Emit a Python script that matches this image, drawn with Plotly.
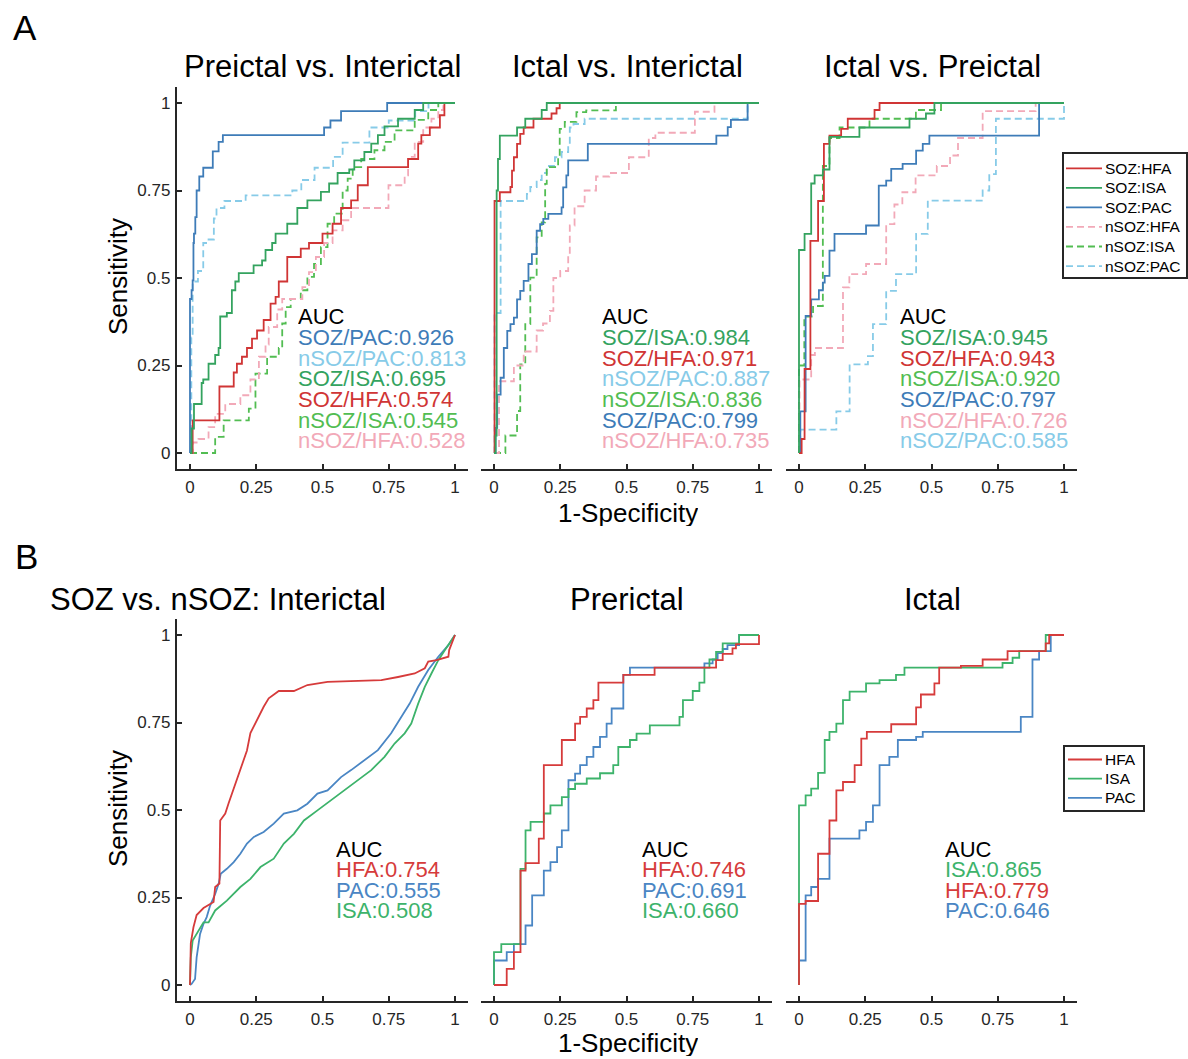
import plotly.graph_objects as go

# ---------------- data ----------------
tick_vals = [0, 0.25, 0.5, 0.75, 1]
tick_text = ["0", "0.25", "0.5", "0.75", "1"]

titles = ["Preictal vs. Interictal", "Ictal vs. Interictal", "Ictal vs. Preictal",
          "SOZ vs. nSOZ: Interictal", "Prerictal", "Ictal"]

top_series = ["SOZ:HFA", "SOZ:ISA", "SOZ:PAC", "nSOZ:HFA", "nSOZ:ISA", "nSOZ:PAC"]
bottom_series = ["HFA", "ISA", "PAC"]

# Panel 1: Preictal vs. Interictal
p1_soz_hfa_x = [0, 0.01, 0.111, 0.165, 0.177, 0.196, 0.215, 0.234, 0.253, 0.278, 0.304, 0.323, 0.335, 0.367, 0.418, 0.449, 0.5, 0.538, 0.57, 0.608, 0.633, 0.671, 0.823, 0.861, 0.873, 0.905, 0.943, 0.96, 1.0]
p1_soz_hfa_y = [0, 0.093, 0.19, 0.23, 0.255, 0.275, 0.3, 0.327, 0.35, 0.38, 0.427, 0.446, 0.49, 0.56, 0.584, 0.6, 0.627, 0.655, 0.7, 0.722, 0.765, 0.817, 0.84, 0.884, 0.908, 0.93, 0.965, 1.0, 1.0]
p1_soz_isa_x = [0, 0.006, 0.015, 0.044, 0.05, 0.07, 0.095, 0.108, 0.114, 0.139, 0.158, 0.171, 0.184, 0.24, 0.272, 0.285, 0.31, 0.323, 0.367, 0.405, 0.443, 0.494, 0.525, 0.557, 0.601, 0.62, 0.658, 0.684, 0.709, 0.734, 0.785, 0.848, 0.88, 1.0]
p1_soz_isa_y = [0, 0.07, 0.14, 0.2, 0.21, 0.255, 0.28, 0.3, 0.39, 0.4, 0.465, 0.49, 0.514, 0.536, 0.55, 0.58, 0.6, 0.627, 0.655, 0.7, 0.722, 0.746, 0.77, 0.8, 0.81, 0.836, 0.86, 0.884, 0.908, 0.933, 0.955, 0.98, 1.0, 1.0]
p1_soz_pac_x = [0, 0, 0.006, 0.01, 0.013, 0.015, 0.02, 0.025, 0.035, 0.05, 0.086, 0.108, 0.124, 0.506, 0.53, 0.57, 0.744, 1.0]
p1_soz_pac_y = [0, 0.44, 0.465, 0.493, 0.6, 0.627, 0.674, 0.75, 0.79, 0.815, 0.862, 0.889, 0.908, 0.93, 0.95, 0.977, 1.0, 1.0]
p1_nsoz_hfa_x = [0, 0.01, 0.032, 0.07, 0.095, 0.133, 0.19, 0.228, 0.26, 0.285, 0.297, 0.329, 0.348, 0.424, 0.449, 0.475, 0.506, 0.538, 0.576, 0.608, 0.749, 0.81, 0.823, 0.848, 0.88, 0.911, 0.937, 0.956, 1.0]
p1_nsoz_hfa_y = [0, 0.03, 0.04, 0.074, 0.112, 0.14, 0.165, 0.21, 0.275, 0.31, 0.36, 0.41, 0.44, 0.474, 0.517, 0.56, 0.6, 0.636, 0.665, 0.7, 0.765, 0.793, 0.846, 0.889, 0.93, 0.955, 0.98, 1.0, 1.0]
p1_nsoz_isa_x = [0, 0.095, 0.127, 0.222, 0.247, 0.291, 0.335, 0.348, 0.361, 0.38, 0.418, 0.443, 0.468, 0.494, 0.519, 0.544, 0.576, 0.595, 0.614, 0.646, 0.696, 0.734, 0.772, 0.848, 0.899, 0.937, 1.0]
p1_nsoz_isa_y = [0, 0.046, 0.093, 0.127, 0.227, 0.275, 0.3, 0.37, 0.417, 0.44, 0.465, 0.503, 0.54, 0.588, 0.655, 0.684, 0.75, 0.784, 0.817, 0.84, 0.865, 0.889, 0.922, 0.952, 0.98, 1.0, 1.0]
p1_nsoz_pac_x = [0, 0.005, 0.01, 0.03, 0.05, 0.07, 0.09, 0.1, 0.13, 0.21, 0.386, 0.42, 0.47, 0.54, 0.576, 0.677, 0.75, 0.85, 0.9, 1.0]
p1_nsoz_pac_y = [0, 0.33, 0.49, 0.52, 0.6, 0.61, 0.67, 0.7, 0.72, 0.736, 0.75, 0.78, 0.815, 0.846, 0.887, 0.93, 0.95, 0.977, 1.0, 1.0]

# Panel 2: Ictal vs. Interictal
p2_soz_hfa_x = [0, 0.002, 0.022, 0.062, 0.068, 0.075, 0.087, 0.099, 0.112, 0.149, 0.217, 0.236, 0.248, 1.0]
p2_soz_hfa_y = [0, 0.72, 0.745, 0.76, 0.807, 0.845, 0.883, 0.912, 0.93, 0.955, 0.97, 0.985, 1.0, 1.0]
p2_soz_isa_x = [0, 0.006, 0.01, 0.015, 0.022, 0.087, 0.118, 0.18, 0.199, 1.0]
p2_soz_isa_y = [0, 0.05, 0.75, 0.84, 0.907, 0.93, 0.955, 0.98, 1.0, 1.0]
p2_soz_pac_x = [0, 0.006, 0.012, 0.025, 0.037, 0.05, 0.062, 0.075, 0.087, 0.099, 0.112, 0.13, 0.143, 0.161, 0.174, 0.186, 0.205, 0.255, 0.261, 0.273, 0.28, 0.354, 0.839, 0.882, 0.894, 0.957, 1.0]
p2_soz_pac_y = [0, 0.072, 0.167, 0.215, 0.3, 0.349, 0.368, 0.387, 0.439, 0.463, 0.492, 0.54, 0.568, 0.635, 0.654, 0.669, 0.683, 0.702, 0.759, 0.793, 0.836, 0.883, 0.907, 0.931, 0.952, 1.0, 1.0]
p2_nsoz_hfa_x = [0, 0.019, 0.075, 0.112, 0.161, 0.185, 0.211, 0.224, 0.25, 0.28, 0.286, 0.304, 0.342, 0.385, 0.435, 0.509, 0.584, 0.609, 0.758, 0.832, 1.0]
p2_nsoz_hfa_y = [0, 0.205, 0.25, 0.29, 0.35, 0.37, 0.406, 0.5, 0.52, 0.568, 0.65, 0.705, 0.75, 0.79, 0.8, 0.845, 0.9, 0.915, 0.975, 1.0, 1.0]
p2_nsoz_isa_x = [0, 0.043, 0.087, 0.099, 0.118, 0.137, 0.161, 0.18, 0.193, 0.199, 0.242, 0.248, 0.267, 0.311, 0.348, 0.46, 1.0]
p2_nsoz_isa_y = [0, 0.05, 0.12, 0.253, 0.368, 0.501, 0.616, 0.659, 0.769, 0.817, 0.845, 0.926, 0.946, 0.974, 0.979, 1.0, 1.0]
p2_nsoz_pac_x = [0, 0.002, 0.025, 0.124, 0.137, 0.161, 0.18, 0.199, 0.23, 0.255, 0.28, 0.286, 0.3, 0.342, 0.957, 1.0]
p2_nsoz_pac_y = [0, 0.4, 0.72, 0.74, 0.76, 0.78, 0.8, 0.82, 0.845, 0.86, 0.883, 0.93, 0.94, 0.955, 1.0, 1.0]

# Panel 3: Ictal vs. Preictal
p3_soz_hfa_x = [0, 0.01, 0.021, 0.043, 0.072, 0.094, 0.115, 0.159, 0.184, 0.285, 0.304, 1.0]
p3_soz_hfa_y = [0, 0.04, 0.24, 0.606, 0.72, 0.883, 0.907, 0.926, 0.955, 0.98, 1.0, 1.0]
p3_soz_isa_x = [0, 0, 0.021, 0.046, 0.059, 0.09, 0.115, 0.228, 0.417, 0.479, 0.511, 1.0]
p3_soz_isa_y = [0, 0.58, 0.626, 0.77, 0.793, 0.81, 0.903, 0.93, 0.955, 0.97, 1.0, 1.0]
p3_soz_pac_x = [0, 0.005, 0.025, 0.046, 0.075, 0.09, 0.097, 0.115, 0.134, 0.253, 0.301, 0.329, 0.348, 0.391, 0.442, 0.467, 0.492, 0.906, 1.0]
p3_soz_pac_y = [0, 0.119, 0.392, 0.439, 0.465, 0.487, 0.506, 0.578, 0.626, 0.65, 0.764, 0.778, 0.812, 0.826, 0.864, 0.883, 0.907, 1.0, 1.0]
p3_nsoz_hfa_x = [0, 0.002, 0.046, 0.06, 0.166, 0.19, 0.253, 0.329, 0.36, 0.39, 0.44, 0.52, 0.57, 0.6, 0.693, 0.893, 1.0]
p3_nsoz_hfa_y = [0, 0.21, 0.28, 0.3, 0.473, 0.511, 0.54, 0.654, 0.71, 0.745, 0.793, 0.82, 0.85, 0.9, 0.977, 1.0, 1.0]
p3_nsoz_isa_x = [0, 0, 0.02, 0.053, 0.09, 0.115, 0.153, 0.266, 0.441, 0.536, 1.0]
p3_nsoz_isa_y = [0, 0.25, 0.39, 0.42, 0.82, 0.9, 0.93, 0.955, 0.98, 1.0, 1.0]
p3_nsoz_pac_x = [0, 0.005, 0.141, 0.191, 0.26, 0.279, 0.329, 0.366, 0.442, 0.486, 0.693, 0.718, 0.743, 1.0]
p3_nsoz_pac_y = [0, 0.067, 0.119, 0.253, 0.277, 0.368, 0.463, 0.511, 0.626, 0.721, 0.75, 0.797, 0.955, 1.0]

# Panel 4: SOZ vs. nSOZ: Interictal
p4_hfa_x = [0, 0.003, 0.013, 0.025, 0.051, 0.089, 0.095, 0.111, 0.114, 0.133, 0.146, 0.158, 0.171, 0.19, 0.203, 0.215, 0.228, 0.241, 0.253, 0.266, 0.278, 0.297, 0.335, 0.392, 0.443, 0.519, 0.608, 0.722, 0.785, 0.848, 0.886, 0.899, 0.93, 0.975, 0.978, 1.0]
p4_hfa_y = [0, 0.12, 0.165, 0.2, 0.22, 0.237, 0.28, 0.29, 0.47, 0.49, 0.52, 0.547, 0.575, 0.614, 0.642, 0.67, 0.72, 0.74, 0.757, 0.776, 0.795, 0.819, 0.84, 0.84, 0.857, 0.866, 0.868, 0.871, 0.88, 0.89, 0.905, 0.924, 0.928, 0.938, 0.957, 1.0]
p4_isa_x = [0, 0.003, 0.01, 0.025, 0.051, 0.07, 0.095, 0.139, 0.19, 0.228, 0.266, 0.316, 0.354, 0.392, 0.43, 0.481, 0.532, 0.582, 0.633, 0.684, 0.734, 0.772, 0.81, 0.835, 0.861, 0.886, 0.911, 0.937, 0.962, 1.0]
p4_isa_y = [0, 0.079, 0.127, 0.146, 0.179, 0.179, 0.213, 0.241, 0.28, 0.303, 0.337, 0.361, 0.404, 0.432, 0.47, 0.499, 0.528, 0.556, 0.585, 0.614, 0.652, 0.69, 0.719, 0.747, 0.804, 0.852, 0.89, 0.928, 0.957, 1.0]
p4_pac_x = [0, 0.006, 0.019, 0.025, 0.038, 0.051, 0.063, 0.076, 0.095, 0.108, 0.116, 0.139, 0.165, 0.19, 0.215, 0.241, 0.278, 0.316, 0.354, 0.405, 0.443, 0.481, 0.519, 0.57, 0.608, 0.658, 0.709, 0.759, 0.797, 0.829, 0.861, 0.899, 0.937, 0.975, 1.0]
p4_pac_y = [0, 0.003, 0.017, 0.079, 0.146, 0.175, 0.194, 0.227, 0.26, 0.289, 0.318, 0.332, 0.351, 0.375, 0.404, 0.423, 0.437, 0.461, 0.49, 0.499, 0.518, 0.547, 0.556, 0.594, 0.614, 0.642, 0.671, 0.719, 0.766, 0.804, 0.852, 0.9, 0.938, 0.971, 1.0]

# Panel 5: Prerictal
p5_hfa_x = [0, 0.048, 0.075, 0.1, 0.119, 0.169, 0.188, 0.256, 0.306, 0.325, 0.35, 0.375, 0.394, 0.488, 0.606, 0.838, 0.863, 0.9, 0.913, 1.0]
p5_hfa_y = [0, 0.046, 0.094, 0.327, 0.348, 0.418, 0.628, 0.7, 0.747, 0.766, 0.79, 0.814, 0.864, 0.886, 0.907, 0.928, 0.946, 0.962, 0.974, 1.0]
p5_isa_x = [0, 0, 0.0275, 0.1, 0.119, 0.138, 0.188, 0.213, 0.256, 0.281, 0.306, 0.35, 0.4, 0.45, 0.469, 0.513, 0.538, 0.588, 0.7, 0.713, 0.75, 0.775, 0.794, 0.813, 0.838, 0.863, 0.925, 1.0]
p5_isa_y = [0, 0.094, 0.117, 0.332, 0.442, 0.466, 0.49, 0.513, 0.537, 0.56, 0.575, 0.59, 0.605, 0.628, 0.68, 0.7, 0.718, 0.742, 0.766, 0.814, 0.84, 0.864, 0.907, 0.93, 0.952, 0.976, 1.0, 1.0]
p5_pac_x = [0, 0, 0.048, 0.075, 0.119, 0.144, 0.188, 0.213, 0.238, 0.256, 0.281, 0.306, 0.325, 0.35, 0.375, 0.4, 0.425, 0.444, 0.488, 0.513, 0.794, 0.825, 0.844, 0.863, 0.881, 0.925, 1.0]
p5_pac_y = [0, 0.07, 0.094, 0.117, 0.17, 0.256, 0.327, 0.351, 0.394, 0.442, 0.585, 0.604, 0.628, 0.652, 0.68, 0.709, 0.747, 0.79, 0.886, 0.907, 0.919, 0.93, 0.948, 0.96, 0.971, 1.0, 1.0]

# Panel 6: Ictal
p6_hfa_x = [0, 0, 0.025, 0.072, 0.072, 0.115, 0.141, 0.166, 0.21, 0.235, 0.256, 0.348, 0.442, 0.46, 0.511, 0.529, 0.611, 0.693, 0.787, 0.931, 0.944, 1.0]
p6_hfa_y = [0, 0.232, 0.24, 0.256, 0.375, 0.47, 0.556, 0.58, 0.628, 0.704, 0.723, 0.745, 0.793, 0.83, 0.862, 0.907, 0.912, 0.93, 0.954, 0.976, 1.0, 1.0]
p6_isa_x = [0, 0, 0.025, 0.046, 0.072, 0.097, 0.115, 0.141, 0.166, 0.191, 0.253, 0.304, 0.366, 0.398, 0.768, 0.806, 0.831, 0.931, 1.0]
p6_isa_y = [0, 0.513, 0.542, 0.561, 0.606, 0.7, 0.723, 0.747, 0.814, 0.838, 0.862, 0.871, 0.886, 0.907, 0.92, 0.935, 0.954, 1.0, 1.0]
p6_pac_x = [0, 0, 0.025, 0.046, 0.072, 0.115, 0.228, 0.253, 0.279, 0.304, 0.341, 0.373, 0.442, 0.467, 0.837, 0.881, 0.906, 0.95, 1.0]
p6_pac_y = [0, 0.07, 0.256, 0.28, 0.303, 0.418, 0.442, 0.466, 0.513, 0.628, 0.652, 0.7, 0.709, 0.723, 0.766, 0.93, 0.954, 1.0, 1.0]

# AUC labels (in drawn order)
p1_auc = [("SOZ/PAC:0.926", "SOZ:PAC"), ("nSOZ/PAC:0.813", "nSOZ:PAC"), ("SOZ/ISA:0.695", "SOZ:ISA"),
          ("SOZ/HFA:0.574", "SOZ:HFA"), ("nSOZ/ISA:0.545", "nSOZ:ISA"), ("nSOZ/HFA:0.528", "nSOZ:HFA")]
p2_auc = [("SOZ/ISA:0.984", "SOZ:ISA"), ("SOZ/HFA:0.971", "SOZ:HFA"), ("nSOZ/PAC:0.887", "nSOZ:PAC"),
          ("nSOZ/ISA:0.836", "nSOZ:ISA"), ("SOZ/PAC:0.799", "SOZ:PAC"), ("nSOZ/HFA:0.735", "nSOZ:HFA")]
p3_auc = [("SOZ/ISA:0.945", "SOZ:ISA"), ("SOZ/HFA:0.943", "SOZ:HFA"), ("nSOZ/ISA:0.920", "nSOZ:ISA"),
          ("SOZ/PAC:0.797", "SOZ:PAC"), ("nSOZ/HFA:0.726", "nSOZ:HFA"), ("nSOZ/PAC:0.585", "nSOZ:PAC")]
p4_auc = [("HFA:0.754", "HFA"), ("PAC:0.555", "PAC"), ("ISA:0.508", "ISA")]
p5_auc = [("HFA:0.746", "HFA"), ("PAC:0.691", "PAC"), ("ISA:0.660", "ISA")]
p6_auc = [("ISA:0.865", "ISA"), ("HFA:0.779", "HFA"), ("PAC:0.646", "PAC")]

# ---------------- styling ----------------
FONT = "Liberation Sans, Arial, Helvetica, sans-serif"
AX = "#262626"
W, H = 1188, 1059

top_colors = {"SOZ:HFA": "#D03535", "SOZ:ISA": "#34A35F", "SOZ:PAC": "#3E7CB8",
              "nSOZ:HFA": "#F2A9B8", "nSOZ:ISA": "#52BD52", "nSOZ:PAC": "#87CBE8"}
DASH = "7px,4px"
top_dash = {"SOZ:HFA": "solid", "SOZ:ISA": "solid", "SOZ:PAC": "solid",
            "nSOZ:HFA": DASH, "nSOZ:ISA": DASH, "nSOZ:PAC": DASH}
bot_colors = {"HFA": "#D63B3B", "ISA": "#3DB36B", "PAC": "#4A86C4"}


def px_x(p):
    return p / W


def px_y(p):
    return 1 - p / H


x_domains = [[px_x(176.75), px_x(468.25)], [px_x(480.75), px_x(772.25)], [px_x(785.75), px_x(1077.25)]]
y_domains = [[px_y(468.75), px_y(87.25)], [px_y(1000.75), px_y(619.25)]]

fig = go.Figure()

top_data = [
    {"SOZ:HFA": (p1_soz_hfa_x, p1_soz_hfa_y), "SOZ:ISA": (p1_soz_isa_x, p1_soz_isa_y), "SOZ:PAC": (p1_soz_pac_x, p1_soz_pac_y),
     "nSOZ:HFA": (p1_nsoz_hfa_x, p1_nsoz_hfa_y), "nSOZ:ISA": (p1_nsoz_isa_x, p1_nsoz_isa_y), "nSOZ:PAC": (p1_nsoz_pac_x, p1_nsoz_pac_y)},
    {"SOZ:HFA": (p2_soz_hfa_x, p2_soz_hfa_y), "SOZ:ISA": (p2_soz_isa_x, p2_soz_isa_y), "SOZ:PAC": (p2_soz_pac_x, p2_soz_pac_y),
     "nSOZ:HFA": (p2_nsoz_hfa_x, p2_nsoz_hfa_y), "nSOZ:ISA": (p2_nsoz_isa_x, p2_nsoz_isa_y), "nSOZ:PAC": (p2_nsoz_pac_x, p2_nsoz_pac_y)},
    {"SOZ:HFA": (p3_soz_hfa_x, p3_soz_hfa_y), "SOZ:ISA": (p3_soz_isa_x, p3_soz_isa_y), "SOZ:PAC": (p3_soz_pac_x, p3_soz_pac_y),
     "nSOZ:HFA": (p3_nsoz_hfa_x, p3_nsoz_hfa_y), "nSOZ:ISA": (p3_nsoz_isa_x, p3_nsoz_isa_y), "nSOZ:PAC": (p3_nsoz_pac_x, p3_nsoz_pac_y)},
]
bot_data = [
    {"HFA": (p4_hfa_x, p4_hfa_y), "ISA": (p4_isa_x, p4_isa_y), "PAC": (p4_pac_x, p4_pac_y)},
    {"HFA": (p5_hfa_x, p5_hfa_y), "ISA": (p5_isa_x, p5_isa_y), "PAC": (p5_pac_x, p5_pac_y)},
    {"HFA": (p6_hfa_x, p6_hfa_y), "ISA": (p6_isa_x, p6_isa_y), "PAC": (p6_pac_x, p6_pac_y)},
]


def ax_names(i):
    s = "" if i == 1 else str(i)
    return "x" + s, "y" + s


draw_order_top = ["nSOZ:PAC", "nSOZ:ISA", "nSOZ:HFA", "SOZ:PAC", "SOZ:HFA", "SOZ:ISA"]
for c in range(3):
    xa, ya = ax_names(c + 1)
    for name in draw_order_top:
        xs, ys = top_data[c][name]
        fig.add_trace(go.Scatter(
            x=xs, y=ys, mode="lines", name=name, xaxis=xa, yaxis=ya,
            line=dict(color=top_colors[name], width=1.8, dash=top_dash[name], shape="hv"),
            showlegend=False, hoverinfo="skip"))

for c in range(3):
    xa, ya = ax_names(c + 4)
    for name in ["PAC", "ISA", "HFA"]:
        xs, ys = bot_data[c][name]
        fig.add_trace(go.Scatter(
            x=xs, y=ys, mode="lines", name=name, xaxis=xa, yaxis=ya,
            line=dict(color=bot_colors[name], width=1.8, shape="linear" if c == 0 else "hv"),
            showlegend=False, hoverinfo="skip"))

layout = dict(
    width=W, height=H, margin=dict(l=0, r=0, t=0, b=0),
    paper_bgcolor="white", plot_bgcolor="white", showlegend=False,
    font=dict(family=FONT, color=AX),
)
for i in range(1, 7):
    r = 0 if i <= 3 else 1
    c = (i - 1) % 3
    s = "" if i == 1 else str(i)
    layout["xaxis" + s] = dict(
        domain=x_domains[c], range=[-0.05, 1.05], anchor="y" + s,
        showline=True, linecolor=AX, linewidth=2, ticks="inside", ticklen=5, tickwidth=1.5,
        tickcolor=AX, tickvals=tick_vals, ticktext=tick_text, tickfont=dict(size=17, color=AX),
        ticklabelstandoff=2, showgrid=False, zeroline=False, fixedrange=True)
    showy = (c == 0)
    layout["yaxis" + s] = dict(
        domain=y_domains[r], range=[-0.045, 1.045], anchor="x" + s,
        showline=showy, linecolor=AX, linewidth=2, ticks="inside" if showy else "",
        ticklen=5, tickwidth=1.5, tickcolor=AX, tickvals=tick_vals, ticktext=tick_text,
        showticklabels=showy, tickfont=dict(size=17, color=AX), ticklabelstandoff=1,
        showgrid=False, zeroline=False, fixedrange=True)

ann = []
shapes = []

# panel letters
ann.append(dict(text="A", x=px_x(25), y=px_y(27), xref="paper", yref="paper", showarrow=False,
                font=dict(size=35, color="black"), xanchor="center", yanchor="middle"))
ann.append(dict(text="B", x=px_x(26), y=px_y(556), xref="paper", yref="paper", showarrow=False,
                font=dict(size=35, color="black"), xanchor="center", yanchor="middle"))
# titles
title_cx = [322.5, 627, 932, 218, 627, 932]
for i, t in enumerate(titles):
    cy = 67 if i < 3 else 599
    ann.append(dict(text=t, x=px_x(title_cx[i]), y=px_y(cy), xref="paper", yref="paper", showarrow=False,
                    font=dict(size=31, color="black"), xanchor="center", yanchor="middle"))
# axis labels
for cy in [277, 809]:
    ann.append(dict(text="Sensitivity", x=px_x(118), y=px_y(cy), xref="paper", yref="paper", showarrow=False,
                    textangle=-90, font=dict(size=26, color="black"), xanchor="center", yanchor="middle"))
for cy in [513, 1043]:
    ann.append(dict(text="1-Specificity", x=px_x(627.5), y=px_y(cy), xref="paper", yref="paper", showarrow=False,
                    font=dict(size=26, color="black"), xanchor="center", yanchor="middle", height=26))

# AUC text blocks
auc_blocks = [(p1_auc, 0.405, top_colors), (p2_auc, 0.405, top_colors), (p3_auc, 0.377, top_colors),
              (p4_auc, 0.548, bot_colors), (p5_auc, 0.553, bot_colors), (p6_auc, 0.549, bot_colors)]
for i, (block, x0, cmap) in enumerate(auc_blocks):
    xa, ya = ax_names(i + 1)
    y0, dy = 0.39, 0.059
    ann.append(dict(text="AUC", x=x0, y=y0, xref=xa, yref=ya, showarrow=False, xanchor="left", yanchor="middle",
                    font=dict(size=22, color="black"), borderpad=0, height=20, valign="middle"))
    for k, (txt, key) in enumerate(block):
        ann.append(dict(text=txt, x=x0, y=y0 - (k + 1) * dy, xref=xa, yref=ya, showarrow=False,
                        xanchor="left", yanchor="middle", font=dict(size=22, color=cmap[key]),
                        borderpad=0, height=20, valign="middle"))


# legend boxes (key lines + labels)
def add_legend(names, colors, dashes, box, row0, step, line_x0, line_x1, text_x):
    x0, y0, x1, y1 = box
    shapes.append(dict(type="rect", xref="paper", yref="paper", x0=px_x(x0), x1=px_x(x1),
                       y0=px_y(y1), y1=px_y(y0), line=dict(color=AX, width=2), fillcolor="white", layer="above"))
    for k, nm in enumerate(names):
        yy = row0 + k * step
        shapes.append(dict(type="line", xref="paper", yref="paper", x0=px_x(line_x0), x1=px_x(line_x1),
                           y0=px_y(yy), y1=px_y(yy), layer="above",
                           line=dict(color=colors[nm], width=1.8, dash=dashes.get(nm, "solid"))))
        ann.append(dict(text=nm, x=px_x(text_x), y=px_y(yy), xref="paper", yref="paper", showarrow=False,
                        xanchor="left", yanchor="middle", font=dict(size=15.5, color="black"),
                        borderpad=0, height=17, valign="middle"))


add_legend(top_series, top_colors, top_dash, (1063, 153, 1187, 278), 168.3, 19.55, 1066, 1102, 1104)
add_legend(bottom_series, bot_colors, {}, (1064, 746, 1144, 811), 759.5, 19.2, 1068, 1102, 1104)

layout["annotations"] = ann
layout["shapes"] = shapes

fig.update_layout(**layout)
fig.write_html("out.html")
